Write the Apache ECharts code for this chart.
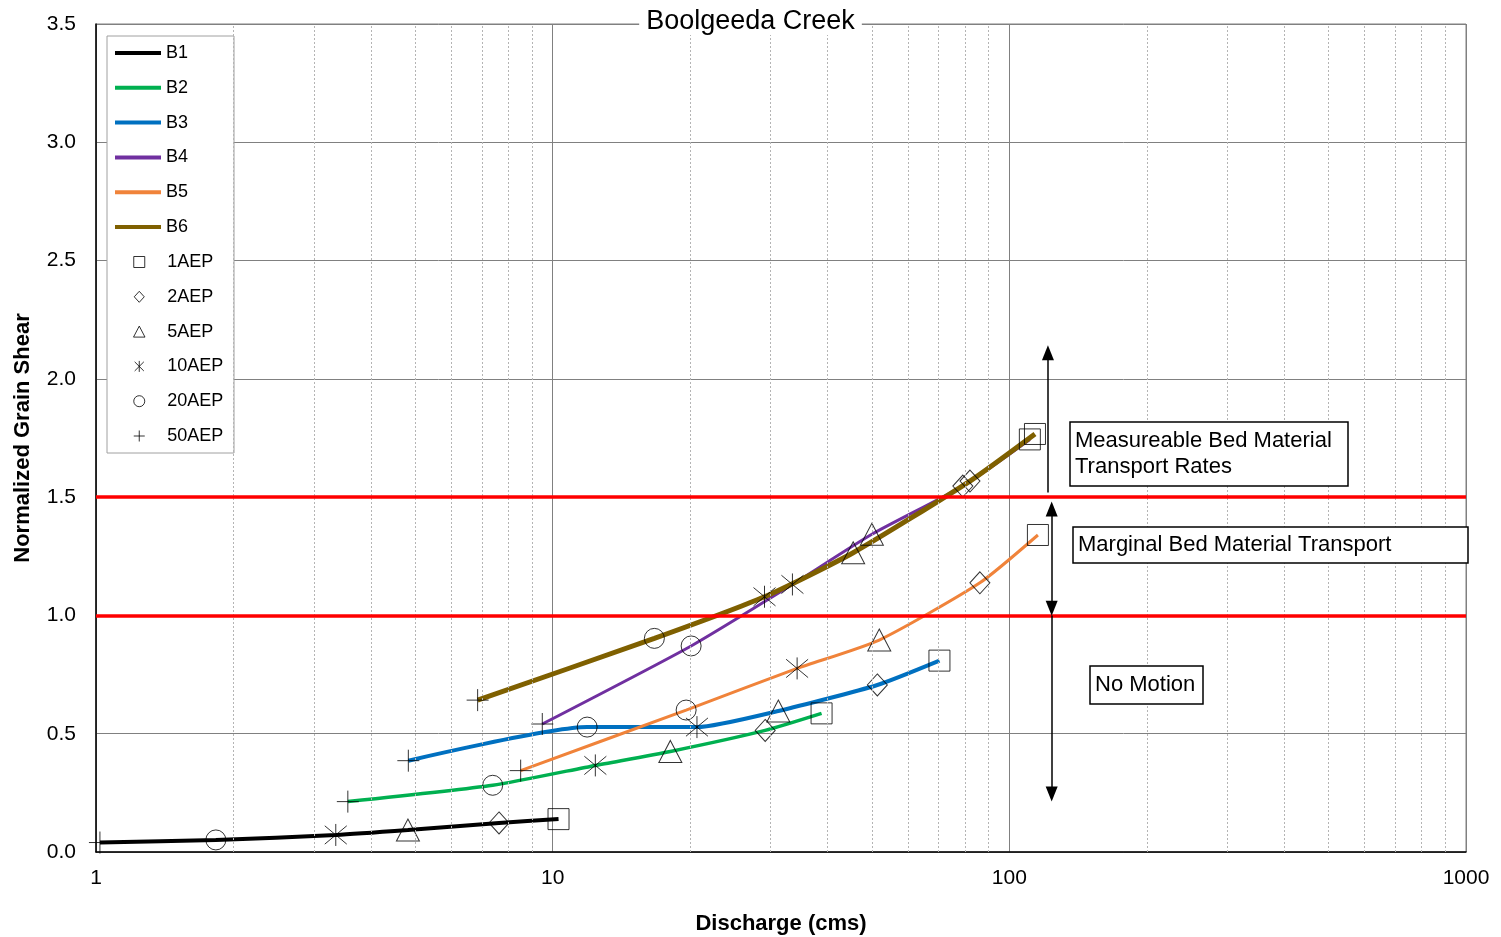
<!DOCTYPE html>
<html>
<head>
<meta charset="utf-8">
<script src="https://cdn.jsdelivr.net/npm/echarts@6/dist/echarts.min.js"></script>
<style>
html,body{margin:0;padding:0;background:#fff;}
#chart{width:1501px;height:937px;}
</style>
</head>
<body>
<div id="chart"></div>
<script>
// ---- Data (discharge in cms, normalized grain shear) ----
// point order in each reach: 50AEP, 20AEP, 10AEP, 5AEP, 2AEP, 1AEP
const seriesNames = ['B1', 'B2', 'B3', 'B4', 'B5', 'B6'];
const aepOrder = ['50AEP', '20AEP', '10AEP', '5AEP', '2AEP', '1AEP'];
const legendAep = ['1AEP', '2AEP', '5AEP', '10AEP', '20AEP', '50AEP'];

const dischargeB1 = [1.02, 1.83, 3.35, 4.82, 7.63, 10.3];
const shearB1     = [0.040, 0.051, 0.072, 0.093, 0.123, 0.139];
const dischargeB2 = [3.56, 7.39, 12.4, 18.1, 29.2, 38.8];
const shearB2     = [0.213, 0.282, 0.366, 0.425, 0.514, 0.586];
const dischargeB3 = [4.83, 11.9, 20.7, 31.2, 51.4, 70.3];
const shearB3     = [0.386, 0.528, 0.528, 0.596, 0.706, 0.809];
const dischargeB4 = [9.49, 20.1, 33.5, 50.0, 79.1, 110.9];
const shearB4     = [0.541, 0.871, 1.131, 1.343, 1.547, 1.744];
const dischargeB5 = [8.51, 19.6, 34.3, 51.9, 86.2, 115.5];
const shearB5     = [0.344, 0.600, 0.776, 0.896, 1.138, 1.340];
const dischargeB6 = [6.85, 16.7, 29.1, 45.5, 82.0, 113.8];
const shearB6     = [0.642, 0.903, 1.079, 1.265, 1.568, 1.767];

const thresholds = [1.0, 1.5];
const minorGridValues = [2,3,4,5,6,7,8,9,20,30,40,50,60,70,80,90,200,300,400,500,600,700,800,900];
// zone arrows: [discharge, fromShear, toShear, headAtStart, headAtEnd]
const zoneArrows = [
  [121.5, 1.52, 2.11, false, true],
  [123.8, 1.03, 1.45, true, true],
  [123.8, 1.0, 0.245, false, true]
];
const yTicks = ['0.0','0.5','1.0','1.5','2.0','2.5','3.0','3.5'];

// ---- Build ----
const dischargeAll = [dischargeB1, dischargeB2, dischargeB3, dischargeB4, dischargeB5, dischargeB6];
const shearAll = [shearB1, shearB2, shearB3, shearB4, shearB5, shearB6];
const lineColors = ['#000000', '#00b050', '#0070c0', '#7030a0', '#f0833a', '#7f6000'];
const lineWidths = [4, 3.5, 4, 3, 3, 5];

const FONT = '"Liberation Sans", Arial, sans-serif';

const symbolDefs = {
  '1AEP':  {symbol: 'path://M0,0L20,0L20,20L0,20Z', size: 21},
  '2AEP':  {symbol: 'path://M10,0L20,11L10,22L0,11Z', size: [20, 22]},
  '5AEP':  {symbol: 'path://M11.5,0L23,22L0,22Z', size: [23, 22]},
  '10AEP': {symbol: 'path://M0,0L20,20M20,0L0,20M10,-2L10,22', size: 22},
  '20AEP': {symbol: 'circle', size: 20},
  '50AEP': {symbol: 'path://M0,10L20,10M10,0L10,20', size: 22}
};

const series = [];

// helper series: minor gridlines
series.push({
  type: 'line', name: '_grid', data: [], z: 1, silent: true,
  markLine: {
    silent: true, symbol: ['none', 'none'], label: {show: false},
    lineStyle: {color: '#b4b4b4', width: 1, type: [2, 2]},
    data: minorGridValues.map(v => ({xAxis: v}))
  }
});

seriesNames.forEach((n, i) => {
  series.push({
    type: 'line', name: n, z: 3,
    data: dischargeAll[i].map((x, k) => [x, shearAll[i][k]]),
    smooth: 0.2, showSymbol: false, symbol: 'none',
    lineStyle: {color: lineColors[i], width: lineWidths[i]},
    itemStyle: {color: lineColors[i]},
    emphasis: {disabled: true}
  });
});

legendAep.forEach(aep => {
  const k = aepOrder.indexOf(aep);
  const def = symbolDefs[aep];
  series.push({
    type: 'scatter', name: aep, z: 4,
    symbol: def.symbol, symbolSize: def.size,
    data: dischargeAll.map((arr, i) => [arr[k], shearAll[i][k]]),
    itemStyle: {color: 'rgba(0,0,0,0)', borderColor: '#000', borderWidth: 1},
    emphasis: {disabled: true}
  });
});

// thresholds and arrows
series.push({
  type: 'line', name: '_marks', data: [], z: 6, silent: true,
  markLine: {
    silent: true, symbol: ['none', 'none'], label: {show: false},
    lineStyle: {color: '#ff0000', width: 3.5, type: 'solid'},
    data: thresholds.map(v => ({yAxis: v}))
  }
});
series.push({
  type: 'line', name: '_arrows', data: [], z: 7, silent: true,
  markLine: {
    silent: true, label: {show: false}, symbolSize: [12, 15],
    lineStyle: {color: '#000', width: 1.5, type: 'solid'},
    itemStyle: {color: '#000'},
    data: zoneArrows.map(a => [
      {coord: [a[0], a[1]], symbol: a[3] ? 'triangle' : 'none'},
      {coord: [a[0], a[2]], symbol: a[4] ? 'triangle' : 'none'}
    ])
  }
});

function textBox(x, y, w, h, lines) {
  return {
    type: 'group', z: 20,
    children: [
      {type: 'rect', shape: {x: x, y: y, width: w, height: h},
       style: {fill: '#fff', stroke: '#000', lineWidth: 1.5}, z: 20},
      {type: 'text', x: x + 5, y: y + h / 2, z: 21,
       style: {text: lines.join('\n'), font: '22px ' + FONT, fill: '#000',
               verticalAlign: 'middle', lineHeight: 26}}
    ]
  };
}

const legendCommon = {
  orient: 'vertical', padding: 0,
  itemWidth: 46, selectedMode: false, symbolKeepAspect: true,
  textStyle: {fontSize: 18, lineHeight: 18, color: '#000', fontFamily: FONT}
};

const chart = echarts.init(document.getElementById('chart'), null, {renderer: 'canvas'});
chart.setOption({
  animation: false,
  backgroundColor: '#fff',
  textStyle: {fontFamily: FONT},
  title: {
    text: 'Boolgeeda Creek', left: 'center', top: 8,
    backgroundColor: '#fff', padding: [0, 7],
    textStyle: {fontSize: 27, fontWeight: 'normal', color: '#000', fontFamily: FONT}
  },
  grid: {left: 96, right: 35, top: 24, bottom: 85, show: true, borderColor: '#808080', borderWidth: 1,
         backgroundColor: 'transparent', containLabel: false, outerBoundsMode: 'none'},
  legend: [
    Object.assign({}, legendCommon, {
      left: 115, top: 44, itemHeight: 4, itemGap: 16.8,
      data: seriesNames.map(n => ({name: n, icon: 'rect'}))
    }),
    Object.assign({}, legendCommon, {
      left: 133, top: 253, itemHeight: 11, itemGap: 16.8,
      itemStyle: {borderWidth: 1},
      data: legendAep
    })
  ],
  xAxis: {
    type: 'log', logBase: 10, min: 1, max: 1000,
    name: 'Discharge (cms)', nameLocation: 'middle', nameGap: 61,
    nameTextStyle: {fontSize: 22, fontWeight: 'bold', color: '#000', fontFamily: FONT},
    axisLine: {show: true, lineStyle: {color: '#000', width: 1.5}},
    axisTick: {show: false},
    axisLabel: {fontSize: 21, color: '#000', margin: 16, fontFamily: FONT,
                formatter: v => String(Math.round(v))},
    splitLine: {show: true, lineStyle: {color: '#808080', width: 1}},
    minorTick: {show: false}, minorSplitLine: {show: false}
  },
  yAxis: {
    type: 'value', min: 0, max: 3.5, interval: 0.5,
    name: 'Normalized Grain Shear', nameLocation: 'middle', nameGap: 62,
    nameTextStyle: {fontSize: 22, fontWeight: 'bold', color: '#000', fontFamily: FONT},
    axisLine: {show: true, lineStyle: {color: '#000', width: 1.5}},
    axisTick: {show: false},
    axisLabel: {fontSize: 21, color: '#000', margin: 20, fontFamily: FONT,
                formatter: v => yTicks[Math.round(v / 0.5)]},
    splitLine: {show: true, lineStyle: {color: '#808080', width: 1}}
  },
  series: series,
  graphic: [
    {type: 'rect', z: 3.5, shape: {x: 107, y: 36, width: 127, height: 417},
     style: {fill: '#fff', stroke: '#a0a0a0', lineWidth: 1}},
    textBox(1070, 422, 278, 64, ['Measureable Bed Material', 'Transport Rates']),
    textBox(1073, 527, 395, 36, ['Marginal Bed Material Transport']),
    textBox(1090, 666, 113, 38, ['No Motion'])
  ]
});
</script>
</body>
</html>
